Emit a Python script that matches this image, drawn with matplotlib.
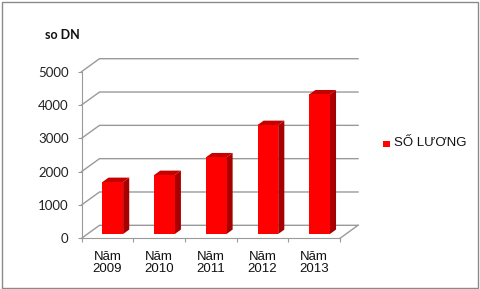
import matplotlib
matplotlib.use("Agg")
import matplotlib.pyplot as plt
from matplotlib.patches import Rectangle, Polygon


# data
categories = ["Năm\n2009", "Năm\n2010", "Năm\n2011", "Năm\n2012", "Năm\n2013"]
so_luong = [1560, 1770, 2300, 3270, 4190]
y_ticks = [0, 1000, 2000, 3000, 4000, 5000]
y_title = "so DN"
series_name = "SỐ LƯƠNG"


def main():

    fig = plt.figure(figsize=(4.81, 2.89), dpi=100)
    W, H = 481.0, 289.0

    # front plane of the fake 3d box, in pixels
    ax = fig.add_axes([81.5 / W, (H - 238.3) / H, 258.5 / W, (238.3 - 71.7) / H])
    n = len(categories)
    ax.set_xlim(0, n)
    ax.set_ylim(0, 5000)

    # depth offset of the back wall (data units)
    ddx = 18 / 51.7
    ddy = 390

    grid_col = "#9a9a9a"
    for v in y_ticks:
        ax.plot([0, ddx, n + ddx], [v, v + ddy, v + ddy], color=grid_col,
                lw=1, clip_on=False, zorder=1)
    ax.plot([n, n + ddx], [0, ddy], color=grid_col, lw=1, clip_on=False, zorder=1)

    # columns
    f0, f1 = 0.33, 0.67
    bw = 0.40
    sdx, sdy = (f1 - f0) * ddx, (f1 - f0) * ddy
    for i, v in enumerate(so_luong):
        x0 = i + 0.29 + f0 * ddx
        y0 = f0 * ddy
        ax.add_patch(Polygon([(x0 + bw, y0), (x0 + bw + sdx, y0 + sdy),
                              (x0 + bw + sdx, y0 + sdy + v), (x0 + bw, y0 + v)],
                             closed=True, fc="#a80000", ec="none", zorder=3))
        ax.add_patch(Polygon([(x0, y0 + v), (x0 + bw, y0 + v),
                              (x0 + bw + sdx, y0 + v + sdy), (x0 + sdx, y0 + v + sdy)],
                             closed=True, fc="#c40000", ec="none", zorder=3))
        ax.add_patch(Rectangle((x0, y0), bw, v, fc="#ff0000", ec="none", zorder=4))

    # axes styling
    for s in ["top", "right"]:
        ax.spines[s].set_visible(False)
    for s in ["left", "bottom"]:
        ax.spines[s].set_color(grid_col)
        ax.spines[s].set_zorder(2)
    ax.set_facecolor("none")

    ax.set_yticks(y_ticks)
    ax.set_yticklabels([str(t) for t in y_ticks], fontfamily="Lato", fontsize=9.5,
                       color="#222222")
    ax.tick_params(axis="y", direction="out", length=3.2, pad=6.0, color=grid_col)

    ax.set_xticks(range(n + 1))
    ax.set_xticklabels([""] * (n + 1))
    ax.tick_params(axis="x", which="major", direction="out", length=3, color=grid_col)
    ax.set_xticks([i + 0.5 for i in range(n)], minor=True)
    ax.set_xticklabels(categories, minor=True, fontfamily="Liberation Sans",
                       fontsize=9.5, linespacing=1.0, color="#111111")
    ax.tick_params(axis="x", which="minor", length=0, pad=9)

    fig.text(45 / W, 1 - 35 / H, y_title, fontfamily="Lato", fontweight="bold",
             fontsize=9, va="center", ha="left", color="#111111")

    # legend
    fig.patches.append(Rectangle((383.3 / W, 1 - 147.3 / H), 6.7 / W, 6.6 / H,
                                 transform=fig.transFigure, fc="#ff0000", ec="none"))
    fig.text(394.5 / W, 1 - 143.5 / H, series_name, fontfamily="Liberation Sans",
             fontsize=9.5, va="center", ha="left", color="#111111")

    # chart area border
    fig.patches.append(Rectangle((1.5 / W, 1.5 / H), 477 / W, 285.5 / H,
                                 transform=fig.transFigure, fc="none",
                                 ec="#8a8a8a", lw=1))

    fig.savefig("out.png", dpi=100)


if __name__ == '__main__':
    main()
